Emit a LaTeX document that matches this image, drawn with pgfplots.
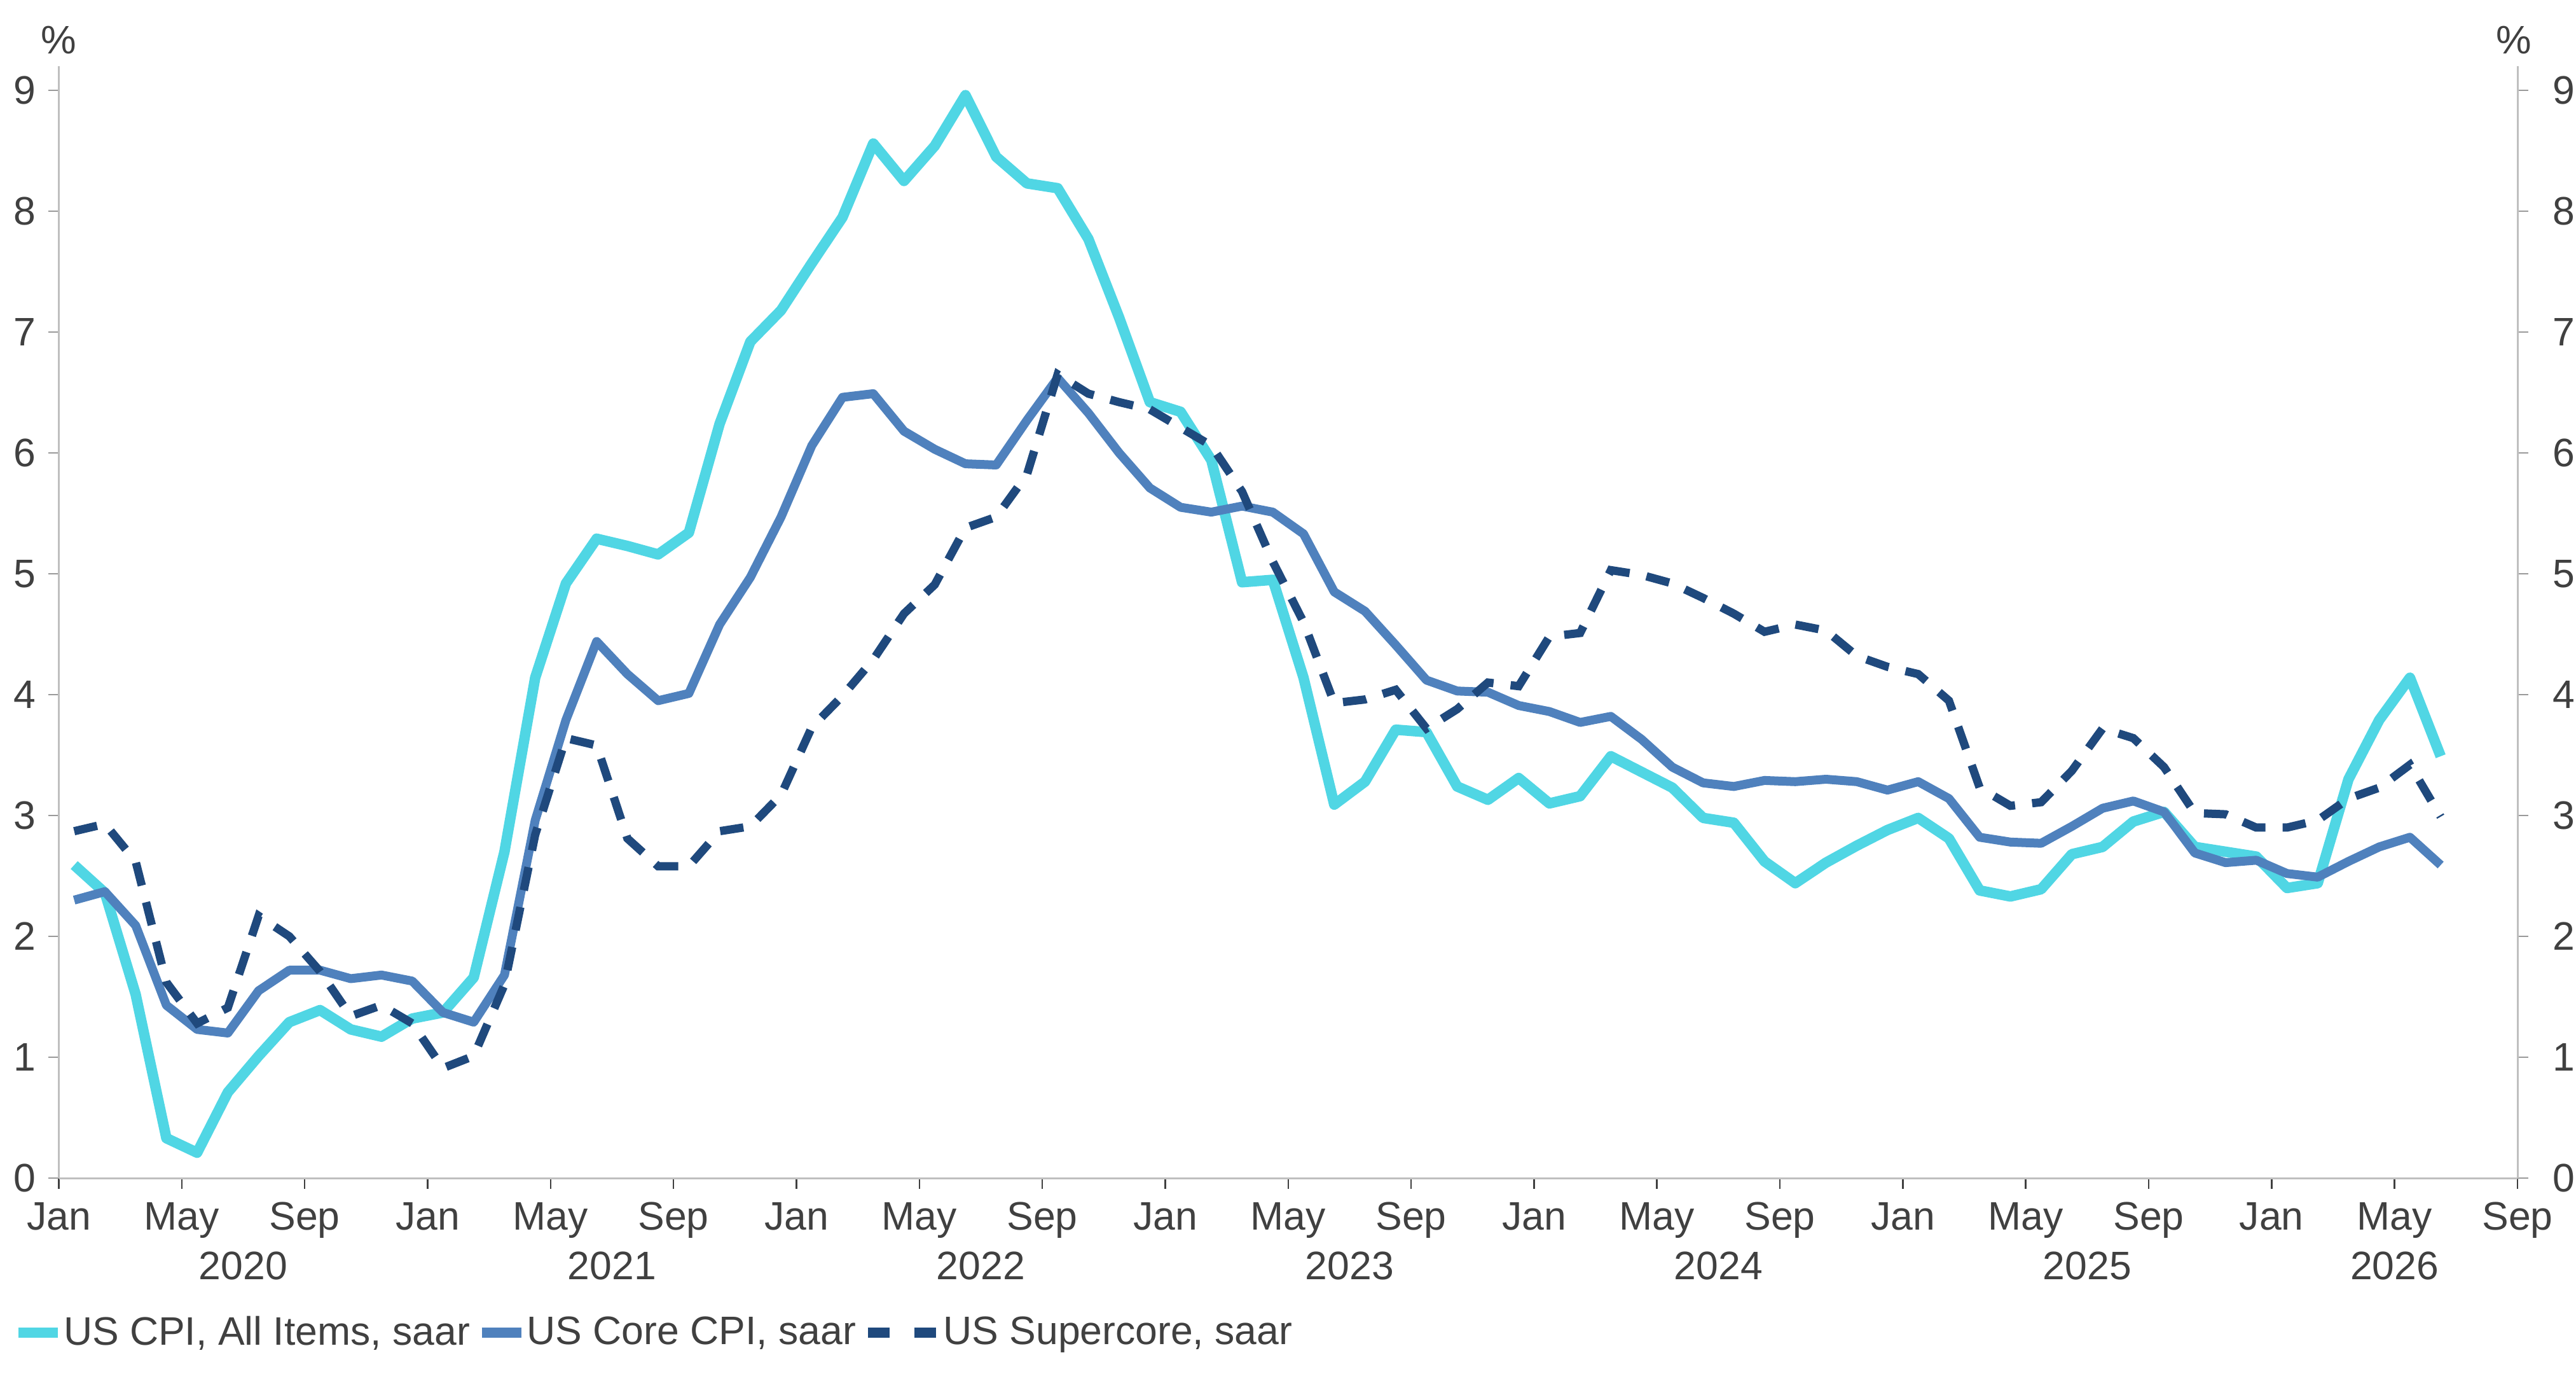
\documentclass[border=0pt]{standalone}
\usepackage{pgfplots}
\pgfplotsset{compat=1.18}
\usepackage{pgfplotstable}
\usepackage{fontspec}
\setmainfont{Liberation Sans}
\definecolor{cpicol}{RGB}{80,214,228}
\definecolor{corecol}{RGB}{79,129,189}
\definecolor{supcol}{RGB}{31,73,125}
\definecolor{txtcol}{RGB}{64,64,64}
\definecolor{axcol}{RGB}{191,191,191}
\newcommand\cf{\fontsize{12.5bp}{15bp}\selectfont}

\pgfplotstableread{
x cpi core super
0.5 2.59 2.30 2.87
1.5 2.36 2.37 2.93
2.5 1.52 2.09 2.62
3.5 0.33 1.43 1.62
4.5 0.21 1.23 1.28
5.5 0.71 1.20 1.41
6.5 1.01 1.55 2.17
7.5 1.29 1.72 2.00
8.5 1.39 1.72 1.71
9.5 1.23 1.65 1.34
10.5 1.17 1.68 1.43
11.5 1.32 1.63 1.28
12.5 1.37 1.37 0.91
13.5 1.66 1.29 1.01
14.5 2.70 1.68 1.60
15.5 4.14 2.96 2.84
16.5 4.92 3.79 3.64
17.5 5.29 4.44 3.58
18.5 5.23 4.17 2.81
19.5 5.16 3.95 2.58
20.5 5.34 4.01 2.58
21.5 6.24 4.58 2.87
22.5 6.92 4.97 2.91
23.5 7.18 5.47 3.17
24.5 7.57 6.06 3.73
25.5 7.95 6.46 3.99
26.5 8.56 6.49 4.29
27.5 8.25 6.18 4.67
28.5 8.54 6.03 4.91
29.5 8.96 5.91 5.38
30.5 8.45 5.90 5.47
31.5 8.23 6.27 5.82
32.5 8.19 6.62 6.65
33.5 7.77 6.33 6.49
34.5 7.12 6.00 6.42
35.5 6.42 5.71 6.36
36.5 6.34 5.55 6.21
37.5 5.94 5.51 6.06
38.5 4.93 5.56 5.68
39.5 4.95 5.51 5.10
40.5 4.14 5.33 4.60
41.5 3.09 4.85 3.93
42.5 3.28 4.69 3.96
43.5 3.71 4.41 4.04
44.5 3.69 4.12 3.72
45.5 3.24 4.03 3.88
46.5 3.13 4.02 4.10
47.5 3.31 3.91 4.07
48.5 3.10 3.86 4.48
49.5 3.16 3.77 4.51
50.5 3.49 3.82 5.03
51.5 3.36 3.63 4.99
52.5 3.23 3.40 4.92
53.5 2.98 3.27 4.80
54.5 2.94 3.24 4.67
55.5 2.62 3.29 4.52
56.5 2.44 3.28 4.58
57.5 2.61 3.30 4.53
58.5 2.75 3.28 4.32
59.5 2.88 3.21 4.23
60.5 2.98 3.28 4.17
61.5 2.81 3.14 3.95
62.5 2.38 2.82 3.23
63.5 2.33 2.78 3.08
64.5 2.39 2.77 3.11
65.5 2.68 2.91 3.37
66.5 2.74 3.06 3.72
67.5 2.95 3.12 3.64
68.5 3.03 3.03 3.40
69.5 2.74 2.69 3.02
70.5 2.70 2.61 3.01
71.5 2.66 2.63 2.90
72.5 2.40 2.52 2.90
73.5 2.44 2.49 2.96
74.5 3.30 2.62 3.14
75.5 3.79 2.74 3.23
76.5 4.14 2.82 3.42
77.5 3.49 2.59 2.99
}\cpidata

\begin{document}
\begin{tikzpicture}
\begin{axis}[
  at={(0,0)}, anchor=south west,
  width=773.3bp, height=349.6bp, scale only axis,
  xmin=0, xmax=80, ymin=0, ymax=9.2,
  clip=false,
  axis x line*=bottom, axis y line*=left,
  axis line style={draw=axcol, line width=0.6bp},
  tick align=outside,
  major tick length=3.3bp,
  xtick={0,4,...,80},
  xticklabels={Jan,May,Sep,Jan,May,Sep,Jan,May,Sep,Jan,May,Sep,Jan,May,Sep,Jan,May,Sep,Jan,May,Sep},
  ytick={0,1,...,9},
  xtick style={draw=txtcol, line width=0.5bp},
  ytick style={draw=axcol!80!black, line width=0.5bp},
  /pgf/number format/assume math mode=true,
  xticklabel style={font=\cf, text=txtcol, anchor=base, inner sep=0pt, yshift=-13bp},
  yticklabel style={font=\cf, text=txtcol, anchor=east, inner sep=0pt, xshift=-3.7bp},
  legend columns=3,
  legend cell align=left,
  legend style={draw=none, fill=none, inner sep=0pt, outer sep=0pt,
    at={(0,0)}, anchor=north west, xshift=-14.3bp, yshift=-43.4bp,
    font=\cf, text=txtcol, nodes={inner sep=0pt},
    /tikz/every odd column/.append style={column sep=0.2bp},
    /tikz/every even column/.append style={column sep=2.1bp}},
]
\addplot[cpicol, line width=3.3bp, line join=round,
  legend image code/.code={\draw[cpicol, line width=3.2bp] (0bp,0bp) -- (12.4bp,0bp);}]
  table[x=x, y=cpi]{\cpidata};
\addlegendentry{US CPI, All Items, saar}
\addplot[corecol, line width=2.8bp, line join=round,
  legend image code/.code={\draw[corecol, line width=3.2bp] (0bp,0bp) -- (12.4bp,0bp);}]
  table[x=x, y=core]{\cpidata};
\addlegendentry{US Core CPI, saar}
\addplot[supcol, line width=2.6bp, dash pattern=on 7.4bp off 5.4bp,
  legend image code/.code={\draw[supcol, line width=3.2bp, dash pattern=on 6.8bp off 7.8bp] (0bp,0bp) -- (22bp,0bp);}]
  table[x=x, y=super]{\cpidata};
\addlegendentry{US Supercore, saar}
\node[font=\cf, text=txtcol, anchor=base] at (axis cs:6,0) [yshift=-31.8bp] {2020};
\node[font=\cf, text=txtcol, anchor=base] at (axis cs:18,0) [yshift=-31.8bp] {2021};
\node[font=\cf, text=txtcol, anchor=base] at (axis cs:30,0) [yshift=-31.8bp] {2022};
\node[font=\cf, text=txtcol, anchor=base] at (axis cs:42,0) [yshift=-31.8bp] {2023};
\node[font=\cf, text=txtcol, anchor=base] at (axis cs:54,0) [yshift=-31.8bp] {2024};
\node[font=\cf, text=txtcol, anchor=base] at (axis cs:66,0) [yshift=-31.8bp] {2025};
\node[font=\cf, text=txtcol, anchor=base] at (axis cs:76,0) [yshift=-31.8bp] {2026};
\node[font=\cf, text=txtcol, anchor=base] at (axis description cs:0,1) [yshift=3.8bp] {\%};
\node[font=\cf, text=txtcol, anchor=base] at (axis description cs:1,1) [yshift=3.8bp, xshift=-1.2bp] {\%};
\end{axis}
\begin{axis}[
  at={(0,0)}, anchor=south west,
  width=773.3bp, height=349.6bp, scale only axis,
  xmin=0, xmax=80, ymin=0, ymax=9.2,
  axis x line=none, axis y line*=right,
  axis line style={draw=axcol, line width=0.6bp},
  tick align=outside,
  major tick length=3.3bp,
  ytick={0,1,...,9},
  ytick style={draw=axcol!80!black, line width=0.5bp},
  /pgf/number format/assume math mode=true,
  yticklabel style={font=\cf, text=txtcol, anchor=west, inner sep=0pt, xshift=7.5bp},
]
\end{axis}
\pgfresetboundingbox
\path[use as bounding box] (-18.5bp,-63.8bp) rectangle (791.7bp,370.4bp);
\end{tikzpicture}
\end{document}
